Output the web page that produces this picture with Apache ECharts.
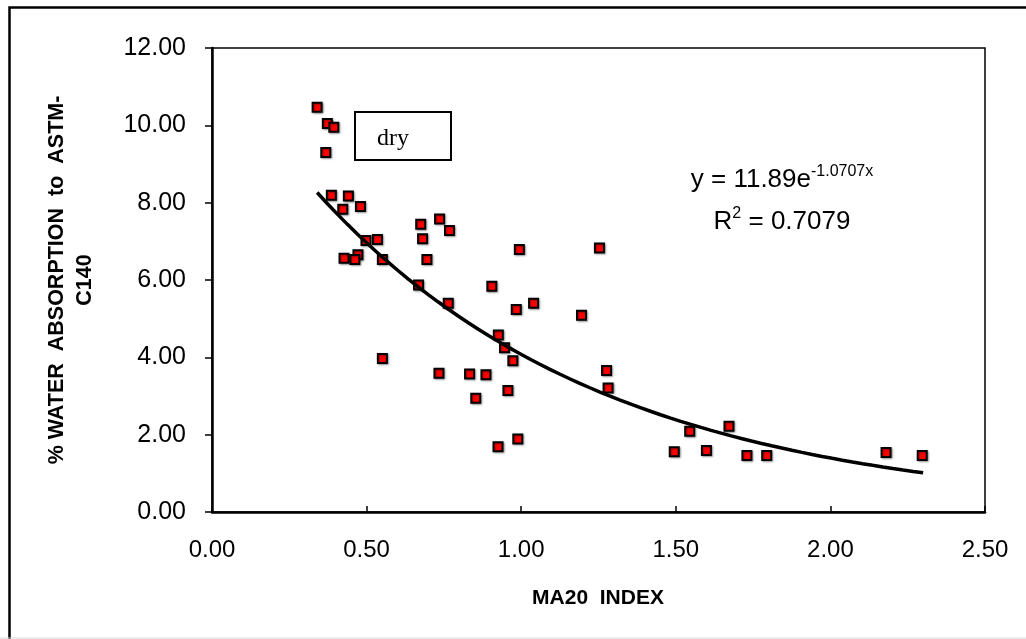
<!DOCTYPE html>
<html><head><meta charset="utf-8">
<script src="https://cdn.jsdelivr.net/npm/echarts@6/dist/echarts.min.js"></script>
<style>html,body{margin:0;padding:0;background:#fff}#c{width:1026px;height:639px}</style>
</head><body><div id="c"></div>
<script>
// MA20 index (x) and % water absorption (y)
const xValues = [0.340,0.373,0.394,0.368,0.386,0.441,0.423,0.480,0.498,0.535,0.427,0.472,0.462,0.551,0.675,0.736,0.768,0.681,0.695,0.668,
  0.994,0.905,0.764,0.984,1.040,0.926,0.946,0.973,0.551,0.734,0.833,0.886,0.853,0.957,0.989,0.925,
  1.253,1.195,1.276,1.281,1.545,1.672,1.495,1.599,1.730,1.794,2.180,2.297];
const yValues = [10.47,10.05,9.95,9.30,8.19,8.17,7.83,7.90,7.02,7.05,6.56,6.65,6.53,6.53,7.44,7.58,7.28,7.07,6.53,5.87,
  6.79,5.84,5.40,5.24,5.40,4.58,4.25,3.91,3.97,3.59,3.57,3.55,2.94,3.14,1.89,1.69,
  6.83,5.09,3.66,3.21,2.09,2.22,1.56,1.59,1.46,1.46,1.54,1.46];
// Exponential trendline as printed on the chart: y = 11.89 e^(-1.0707 x)
const trendA = 11.89;
const trendB = -1.0707;
const trendRange = [0.34, 2.30];
const xTickLabels = ['0.00','0.50','1.00','1.50','2.00','2.50'];
const yTickLabels = ['0.00','2.00','4.00','6.00','8.00','10.00','12.00'];

const scatterData = xValues.map((x, i) => [x, yValues[i]]);
const trendData = [];
for (let i = 0; i <= 60; i++) {
  const x = trendRange[0] + (trendRange[1] - trendRange[0]) * i / 60;
  trendData.push([x, trendA * Math.exp(trendB * x)]);
}

const chart = echarts.init(document.getElementById('c'), null, {renderer: 'canvas'});
const F = 'Liberation Sans, Arial, sans-serif';
const richEq = {
  m: {fontFamily: F, fontSize: 26, lineHeight: 32, color: '#000'},
  s: {fontFamily: F, fontSize: 16, lineHeight: 16, verticalAlign: 'top', color: '#000'}
};
chart.setOption({
  backgroundColor: '#fff',
  animation: false,
  grid: {left: 212, top: 48, width: 773, height: 464, show: true, borderColor: '#000', borderWidth: 1.5, backgroundColor: 'transparent'},
  xAxis: {
    type: 'value', min: 0, max: 2.5, interval: 0.5,
    axisLine: {show: true, onZero: false, lineStyle: {color: '#000', width: 2.5}},
    axisTick: {show: true, inside: true, length: 6, lineStyle: {color: '#000', width: 1.5}},
    axisLabel: {color: '#000', fontFamily: F, fontSize: 24, margin: 26,
      formatter: v => xTickLabels[Math.round(v / 0.5)]},
    splitLine: {show: false}
  },
  yAxis: {
    type: 'value', min: 0, max: 12, interval: 2,
    axisLine: {show: true, onZero: false, lineStyle: {color: '#000', width: 2.5}},
    axisTick: {show: true, inside: false, length: 7, lineStyle: {color: '#000', width: 1.5}},
    axisLabel: {color: '#000', fontFamily: F, fontSize: 25, margin: 26,
      formatter: v => yTickLabels[Math.round(v / 2)]},
    splitLine: {show: false}
  },
  series: [
    {
      type: 'scatter', data: scatterData, symbol: 'rect', symbolSize: 9, z: 3,
      itemStyle: {color: '#ff0000', borderColor: '#000', borderWidth: 2, opacity: 1,
        shadowBlur: 2, shadowColor: 'rgba(0,0,0,0.35)', shadowOffsetX: 1, shadowOffsetY: 1}
    },
    {
      type: 'line', data: trendData, showSymbol: false, smooth: false, z: 4,
      lineStyle: {color: '#000', width: 3.5}, silent: true
    }
  ],
  graphic: [
    {type: 'rect', left: 7, top: 5, shape: {width: 1040, height: 660}, style: {fill: 'none', stroke: '#000', lineWidth: 2.5}, z: 10},
    {type: 'line', shape: {x1: 0, y1: 638, x2: 1026, y2: 638}, style: {stroke: '#d8d8d8', lineWidth: 1}, z: 10},
    {type: 'text', x: 71, y: 280, rotation: Math.PI / 2,
      style: {text: '% WATER  ABSORPTION  to  ASTM-\nC140', font: 'bold 21.5px ' + F, fill: '#000',
        textAlign: 'center', textVerticalAlign: 'middle', lineHeight: 28}, z: 10},
    {type: 'text', x: 598, y: 598,
      style: {text: 'MA20  INDEX', font: 'bold 21px ' + F, fill: '#000', textAlign: 'center', textVerticalAlign: 'middle'}, z: 10},
    {type: 'rect', shape: {x: 355, y: 112, width: 96, height: 48}, style: {fill: '#fff', stroke: '#000', lineWidth: 2}, z: 10},
    {type: 'text', x: 393, y: 139,
      style: {text: 'dry', font: '24px Liberation Serif, Times New Roman, serif', fill: '#000', textAlign: 'center', textVerticalAlign: 'middle'}, z: 11},
    {type: 'text', x: 782, y: 180,
      style: {text: '{m|y = 11.89e}{s|-1.0707x}', textAlign: 'center', textVerticalAlign: 'middle', rich: richEq}, z: 10},
    {type: 'text', x: 782, y: 222,
      style: {text: '{m|R}{s|2}{m| = 0.7079}', textAlign: 'center', textVerticalAlign: 'middle', rich: richEq}, z: 10}
  ]
});
</script></body></html>
